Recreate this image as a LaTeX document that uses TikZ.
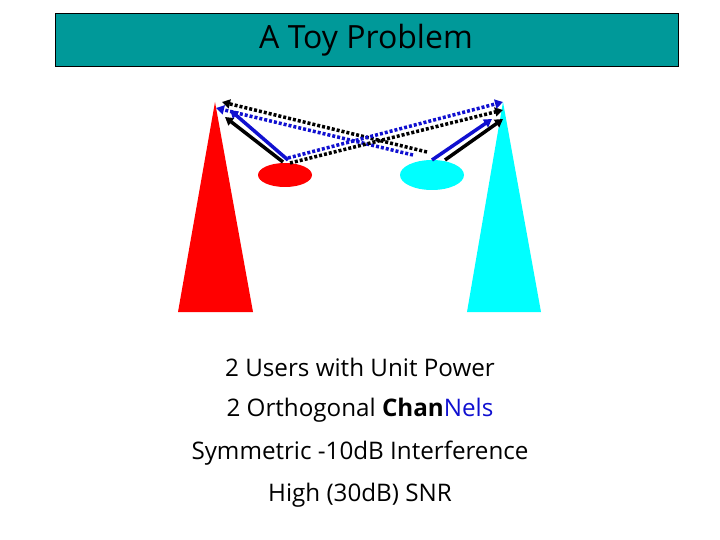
\documentclass[tikz,border=0pt]{standalone}
\usepackage{fontspec}
\setmainfont{Open Sans}
\usetikzlibrary{arrows.meta,shapes.geometric}
\definecolor{teal}{HTML}{009999}
\definecolor{myblue}{HTML}{1010D0}
\definecolor{aqua}{HTML}{00FFFF}
\begin{document}
\begin{tikzpicture}[x=1pt,y=-1pt,
  sol/.style={line width=3.5pt,-{Triangle[length=8pt,width=9pt]}},
  dot/.style={line width=3.5pt,dash pattern=on 3pt off 2pt,-{Triangle[length=8pt,width=9pt]}},
  txt/.style={font=\fontsize{24.2}{27}\selectfont}]
\useasboundingbox (0,0) rectangle (720,540);
\node[draw=black,fill=teal,minimum width=623pt,minimum height=53pt,anchor=north west,inner sep=0] (title) at (55,13) {};
\node[font=\fontsize{32}{35}\selectfont] (tt) at (366,40) {A Toy Problem};
\fill[red] (215,102) -- (253,312) -- (178,312) -- cycle;
\fill[aqua] (503,102) -- (541,312) -- (467,312) -- cycle;
\node[ellipse,fill=red,minimum width=54pt,minimum height=24pt,inner sep=0] (u1) at (285,175) {};
\node[ellipse,fill=aqua,minimum width=64pt,minimum height=30pt,inner sep=0] (u2) at (432,175) {};
\coordinate (a1) at (283,162); \coordinate (b1) at (225,117);
\coordinate (a2) at (288,160); \coordinate (b2) at (230,110);
\coordinate (a3) at (288,158); \coordinate (b3) at (503,102);
\coordinate (a4) at (290,163); \coordinate (b4) at (503,110);
\coordinate (a5) at (427,152); \coordinate (b5) at (222,102);
\coordinate (a6) at (413,155); \coordinate (b6) at (216,108);
\coordinate (a7) at (432,160); \coordinate (b7) at (492,119);
\coordinate (a8) at (445,160); \coordinate (b8) at (503,119);
\draw[dot,black] (a5) -- (b5);
\draw[dot,myblue] (a6) -- (b6);
\draw[dot,black] (a4) -- (b4);
\draw[dot,myblue] (a3) -- (b3);
\draw[sol,black] (a1) -- (b1);
\draw[sol,myblue] (a2) -- (b2);
\draw[sol,myblue] (a7) -- (b7);
\draw[sol,black] (a8) -- (b8);
\node[txt] (l1) at (360,367) {2 Users with Unit Power};
\node[txt] (l2) at (360,410) {2 Orthogonal \textbf{Chan}\textcolor{myblue}{Nels}};
\node[txt] (l3) at (360,453) {Symmetric -10dB Interference};
\node[txt] (l4) at (360,495) {High (30dB) SNR};
\end{tikzpicture}
\end{document}
